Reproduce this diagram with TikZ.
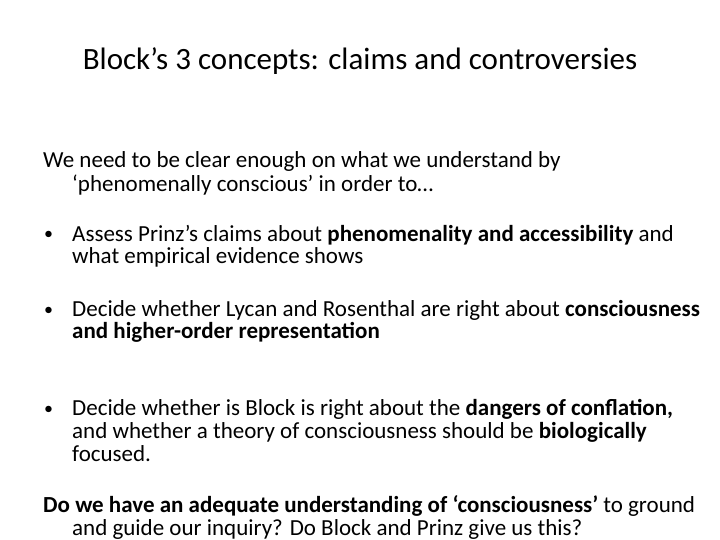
\documentclass[tikz,border=0pt]{standalone}
\usepackage{fontspec}
\setmainfont{Carlito}
\begin{document}
\begin{tikzpicture}[x=1pt,y=-1pt,
  line/.style={anchor=base west, inner sep=0pt, font=\fontsize{23}{26}\selectfont},
  dot/.style={anchor=base west, inner sep=0pt, font=\fontsize{18}{20}\selectfont},
  title/.style={anchor=base, inner sep=0pt, font=\fontsize{31}{36}\selectfont}]
  \useasboundingbox (0,0) rectangle (720,540);
  % Title
  \node[title] (title) at (360,70) {Block’s 3 concepts: claims and controversies};
  % Intro
  \node[line] (intro-1) at (43,168) {We need to be clear enough on what we understand by};
  \node[line] (intro-2) at (72,192) {‘phenomenally conscious’ in order to…};
  % First bullet
  \node[dot] (dot-1) at (44,240) {•};
  \node[line] (item-1-1) at (72,241) {Assess Prinz’s claims about \textbf{phenomenality and accessibility} and};
  \node[line] (item-1-2) at (72,263) {what empirical evidence shows};
  % Second bullet
  \node[dot] (dot-2) at (44,315) {•};
  \node[line] (item-2-1) at (72,316) {Decide whether Lycan and Rosenthal are right about \textbf{consciousness}};
  \node[line] (item-2-2) at (72,338) {\textbf{and higher-order representation}};
  % Third bullet
  \node[dot] (dot-3) at (44,414) {•};
  \node[line] (item-3-1) at (72,415) {Decide whether is Block is right about the \textbf{dangers of conflation,}};
  \node[line] (item-3-2) at (72,438) {and whether a theory of consciousness should be \textbf{biologically}};
  \node[line] (item-3-3) at (72,461) {focused.};
  % Closing
  \node[line] (close-1) at (43,512) {\textbf{Do we have an adequate understanding of ‘consciousness’} to ground};
  \node[line] (close-2) at (72,535) {and guide our inquiry? Do Block and Prinz give us this?};
\end{tikzpicture}
\end{document}
